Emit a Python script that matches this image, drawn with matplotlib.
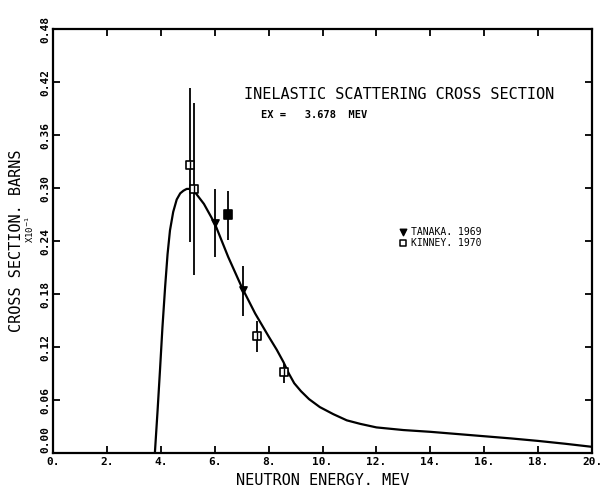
import matplotlib.pyplot as plt
import numpy as np

# calculated curve
curve_e = [3.78, 3.88, 3.97, 4.06, 4.16, 4.25, 4.34, 4.46, 4.59, 4.72, 4.84, 4.96,
           5.08, 5.20, 5.60, 6.00, 6.50, 7.00, 7.50, 8.00, 8.30, 8.55, 8.75, 8.95,
           9.20, 9.50, 9.90, 10.4, 10.9, 11.4, 12.0, 13.0, 14.0, 15.0, 16.0, 17.0,
           18.0, 19.0, 20.0]
curve_xs = [0.0, 0.048, 0.094, 0.142, 0.188, 0.225, 0.252, 0.273, 0.287, 0.294, 0.297, 0.299,
            0.299, 0.298, 0.282, 0.260, 0.222, 0.188, 0.158, 0.132, 0.117, 0.103, 0.090, 0.079,
            0.070, 0.061, 0.052, 0.044, 0.037, 0.033, 0.029, 0.026, 0.024, 0.0215, 0.019, 0.0165,
            0.0137, 0.0105, 0.007]

# Tanaka 1969
tanaka_e = [6.01, 7.04]
tanaka_xs = [0.260, 0.185]
tanaka_lo = [0.222, 0.155]
tanaka_hi = [0.299, 0.212]

# Kinney 1970
kinney_e = [5.08, 5.22, 6.49, 7.56, 8.57]
kinney_xs = [0.326, 0.299, 0.270, 0.132, 0.092]
kinney_lo = [0.239, 0.202, 0.241, 0.114, 0.079]
kinney_hi = [0.413, 0.396, 0.297, 0.149, 0.102]
kinney_fill = ['white', 'white', 'black', 'white', 'white']

xticks = np.arange(0, 21, 2)
yticks = np.arange(0, 0.481, 0.06)

mono = 'DejaVu Sans Mono'

fig = plt.figure(figsize=(6.05, 4.93), dpi=100)
ax = fig.add_axes([0.0876, 0.0811, 0.891, 0.860])

ax.plot(curve_e, curve_xs, color='black', lw=1.6)

t_err = [np.array(tanaka_xs) - np.array(tanaka_lo), np.array(tanaka_hi) - np.array(tanaka_xs)]
ax.errorbar(tanaka_e, tanaka_xs, yerr=t_err, fmt='none', ecolor='black', elinewidth=1.3, capsize=0)
ax.scatter(tanaka_e, tanaka_xs, marker='v', s=28, color='black', zorder=4)

k_err = [np.array(kinney_xs) - np.array(kinney_lo), np.array(kinney_hi) - np.array(kinney_xs)]
ax.errorbar(kinney_e, kinney_xs, yerr=k_err, fmt='none', ecolor='black', elinewidth=1.3, capsize=0)
ax.scatter(kinney_e, kinney_xs, marker='s', s=34, facecolors=kinney_fill,
           edgecolors='black', linewidths=1.2, zorder=4)
# cross line through the open squares
ax.scatter(kinney_e, kinney_xs, marker='|', s=34, color='black', linewidths=1.0, zorder=5)

ax.set_xlim(0, 20)
ax.set_ylim(0, 0.48)
ax.set_xticks(xticks)
ax.set_yticks(yticks)
ax.set_xticklabels(['%d.' % v for v in xticks], fontfamily=mono, fontsize=8, fontweight='bold')
ax.set_yticklabels(['%.2f' % v for v in yticks], fontfamily=mono, fontsize=8, fontweight='bold',
                   rotation=90, va='center')
# the 0.00 label sits above its tick, clear of the "0." x label
ax.get_yticklabels()[0].set_va('bottom')
ax.tick_params(direction='in', length=5, width=1.3, top=True, right=True, pad=3)
ax.tick_params(axis='y', pad=2)
for s in ax.spines.values():
    s.set_linewidth(1.6)

ax.set_xlabel('NEUTRON ENERGY. MEV', fontfamily=mono, fontsize=11, labelpad=4)
ax.set_ylabel('CROSS SECTION. BARNS', fontfamily=mono, fontsize=11, labelpad=12)
fig.text(0.050, 0.535, r'X10$^{-1}$', fontfamily=mono, fontsize=6.5, rotation=90,
         ha='center', va='center')

ax.text(0.355, 0.845, 'INELASTIC SCATTERING CROSS SECTION', transform=ax.transAxes,
        fontfamily=mono, fontsize=11, ha='left', va='center')
ax.text(0.385, 0.797, 'EX =   3.678  MEV', transform=ax.transAxes,
        fontfamily=mono, fontsize=7.5, fontweight='bold', ha='left', va='center')

# legend
ax.scatter([13.0], [0.2505], marker='v', s=22, color='black')
ax.text(13.3, 0.2505, 'TANAKA. 1969', fontfamily=mono, fontsize=7, va='center')
ax.scatter([13.0], [0.238], marker='s', s=24, facecolors='white', edgecolors='black', linewidths=1.1)
ax.text(13.3, 0.238, 'KINNEY. 1970', fontfamily=mono, fontsize=7, va='center')

fig.savefig('out.png', dpi=100)
